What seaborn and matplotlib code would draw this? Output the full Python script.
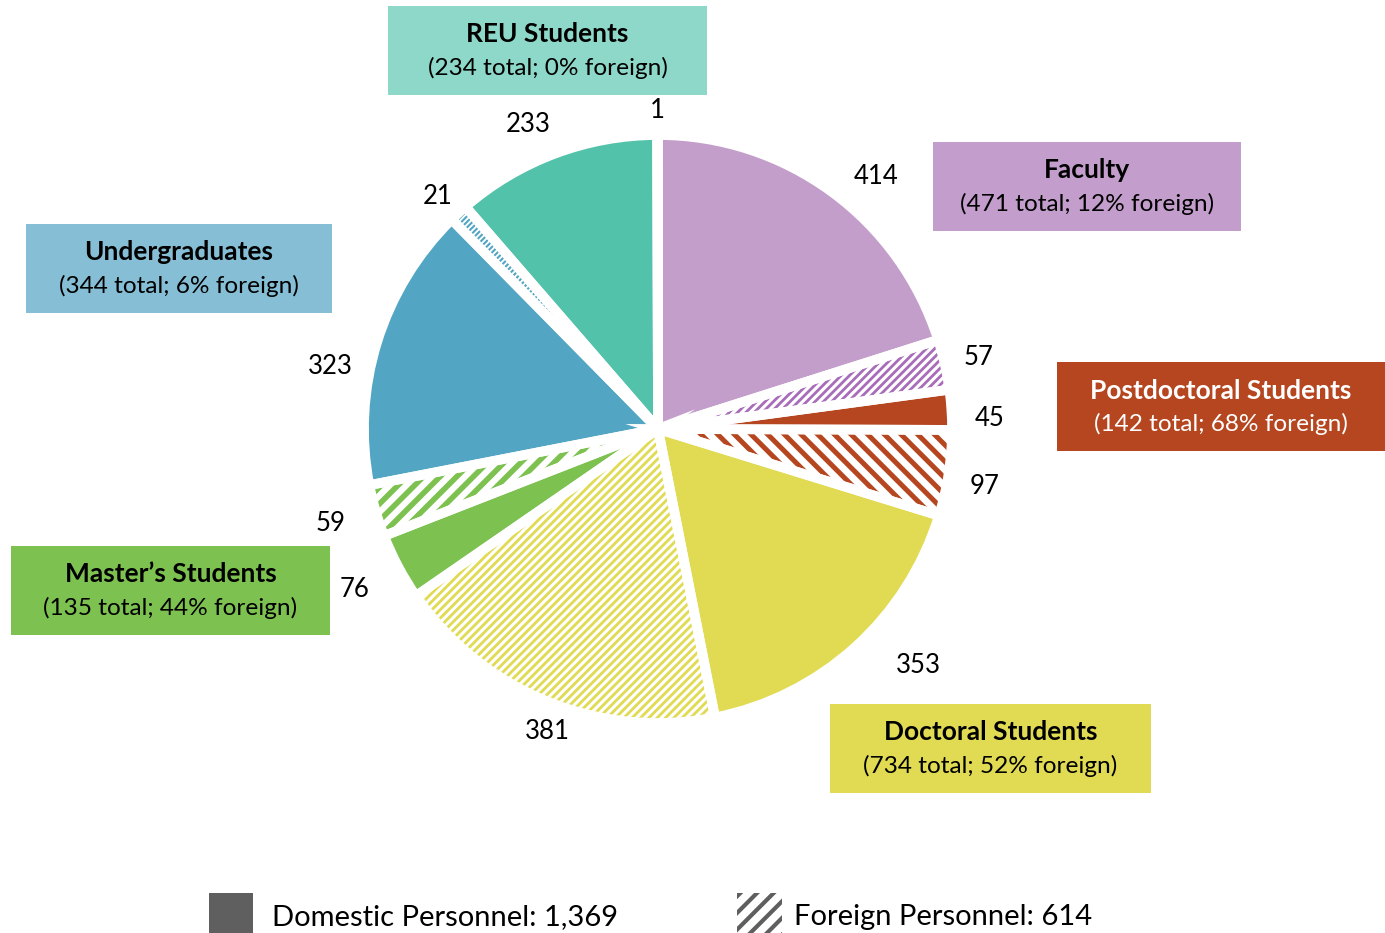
import matplotlib
matplotlib.use("Agg")
import matplotlib.pyplot as plt
import seaborn as sns
import numpy as np
from matplotlib.patches import Rectangle, Wedge

# ---------------- data ----------------
categories = ["Faculty", "Postdoctoral Students", "Doctoral Students",
              "Master\u2019s Students", "Undergraduates", "REU Students"]
domestic = [414, 45, 353, 76, 323, 233]
foreign = [57, 97, 381, 59, 21, 1]
totals = [471, 142, 734, 135, 344, 234]
pct_foreign = [12, 68, 52, 44, 6, 0]
legend_labels = ["Domestic Personnel: 1,369", "Foreign Personnel: 614"]

# ---------------- styles ----------------
slice_colors = ["#C39ECB", "#B5461F", "#E0DB52", "#7DC250", "#52A6C4", "#52C2AA"]
hatch_colors = ["#A86DB8", "#B5461F", "#E0DB52", "#7DC250", "#52A6C4", "#52C2AA"]
box_colors = ["#C39DCB", "#B5461F", "#E0DB52", "#7DC250", "#86BFD5", "#8DD8C8"]
text_colors = ["black", "white", "black", "black", "black", "black"]
hatches = ["////", "\\\\", "////", "//", "//////", "///"]
hatch_lw = [2.0, 3.6, 2.0, 4.0, 1.5, 1.5]
# value-label placement per wedge: (radius factor, angle offset in degrees)
label_r = [1.136, 1.116, 1.129, 1.129, 1.197, 1.095, 1.167, 1.160, 1.136, 1.088, 1.126, 1.085]
label_da = [-4.6, 0, -1.9, -1.4, 5.7, 2.0, 0, 0, 6.5, 0.7, 2.5, 0]
# label boxes in pixels (x0, y0, x1, y1) from top-left
box_px = [(933, 142, 1241, 231), (1057, 362, 1385, 451), (830, 704, 1151, 793),
          (11, 546, 330, 635), (26, 224, 332, 313), (388, 6, 707, 95)]

sns.set_theme(style="white")
plt.rcParams["font.family"] = ["Lato", "DejaVu Sans"]
plt.rcParams["hatch.linewidth"] = 2.2

W, H = 1385, 933
fig = plt.figure(figsize=(W / 100, H / 100), dpi=100)
fig.patch.set_facecolor("white")

S = 294.0          # px per data unit (radius 1)
cx, cy = 658, 429  # pie centre (px from top-left)
L = 1.4
ax_w = 2 * L * S
ax = fig.add_axes([(cx - L * S) / W, (H - cy - L * S) / H, ax_w / W, ax_w / H])

values, colors, is_foreign, cat_idx = [], [], [], []
for i in range(len(categories)):
    values += [domestic[i], foreign[i]]
    colors += [slice_colors[i], slice_colors[i]]
    is_foreign += [False, True]
    cat_idx += [i, i]

wedges, _ = ax.pie(values, colors=colors, startangle=90, counterclock=False,
                   radius=1.0, wedgeprops=dict(linewidth=0))
ax.set_xlim(-L, L)
ax.set_ylim(-L, L)
ax.set_aspect("equal")
ax.axis("off")

for k, (w, f, ci) in enumerate(zip(wedges, is_foreign, cat_idx)):
    if f:
        w.set_facecolor("white")
        w.set_edgecolor(hatch_colors[ci])
        w.set_hatch(hatches[ci])
        w.set_linewidth(0)
        if hasattr(w, "set_hatch_linewidth"):
            w.set_hatch_linewidth(hatch_lw[ci])
    # white separator outline
    ax.add_patch(Wedge(w.center, w.r, w.theta1, w.theta2, fill=False,
                       edgecolor="white", linewidth=7, zorder=3))
    mid = np.deg2rad((w.theta1 + w.theta2) / 2 + label_da[k])
    ax.text(label_r[k] * np.cos(mid), label_r[k] * np.sin(mid), f"{values[k]}",
            ha="center", va="center", fontsize=18.5, color="black", clip_on=False,
            zorder=5)

# category boxes
for i, (x0, y0, x1, y1) in enumerate(box_px):
    fig.patches.append(Rectangle((x0 / W, 1 - y1 / H), (x1 - x0) / W, (y1 - y0) / H,
                                 transform=fig.transFigure, facecolor=box_colors[i],
                                 edgecolor="none", zorder=1))
    xc = (x0 + x1) / 2 / W
    yc = (y0 + y1) / 2
    fig.text(xc, 1 - (yc - 16) / H, categories[i], ha="center", va="center",
             fontsize=19, fontweight="bold", color=text_colors[i], zorder=2)
    fig.text(xc, 1 - (yc + 17) / H, f"({totals[i]} total; {pct_foreign[i]}% foreign)",
             ha="center", va="center", fontsize=17.6, color=text_colors[i], zorder=2)

# legend
fig.patches.append(Rectangle((209 / W, 0), 44 / W, 40 / H, transform=fig.transFigure,
                             facecolor="#5F5F5F", edgecolor="none"))
leg_hatch = Rectangle((737 / W, 0), 45 / W, 40 / H, transform=fig.transFigure,
                      facecolor="white", edgecolor="#5F5F5F", hatch="//",
                      linewidth=0)
if hasattr(leg_hatch, "set_hatch_linewidth"):
    leg_hatch.set_hatch_linewidth(3.0)
fig.patches.append(leg_hatch)
fig.text(272 / W, 1 - 917 / H, legend_labels[0], ha="left", va="center",
         fontsize=21, color="black")
fig.text(794 / W, 1 - 917 / H, legend_labels[1], ha="left", va="center",
         fontsize=21, color="black")

fig.savefig("out.png", dpi=100, facecolor="white")
